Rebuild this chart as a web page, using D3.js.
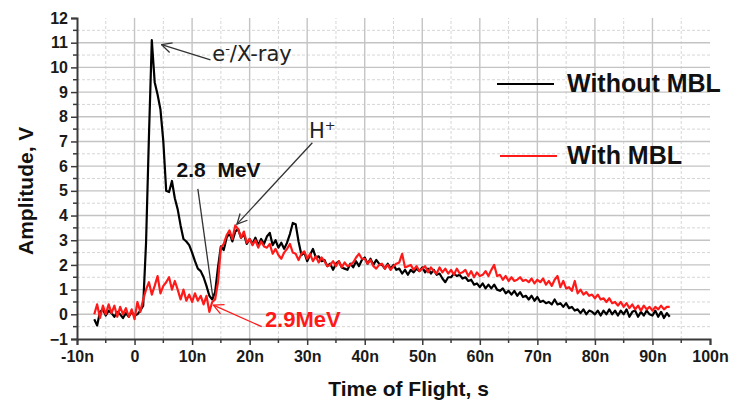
<!DOCTYPE html>
<html>
<head>
<meta charset="utf-8">
<script src="https://cdn.jsdelivr.net/npm/d3@7"></script>
<style>
  html, body { margin: 0; padding: 0; background: #fff; }
  svg { display: block; }
</style>
</head>
<body>
<svg width="730" height="403"></svg>
<script>
// sampling of both traces: first point at -7n, one value every 0.5n
const timeStart = -7;
const timeStep = 0.5;

// Without MBL (black), volts
const withoutMBL = [
  -0.2, -0.45, 0.1, 0.2, -0.05, 0.15, 0.05, -0.1, 0.1, 0.0,
  -0.15, 0.05, -0.1, 0.1, -0.05, 0.0, 0.15, 0.35, 2.9, 7.2,
  11.1, 9.4, 8.9, 8.3, 7.0, 5.0, 4.95, 5.4, 4.7, 4.25,
  3.6, 3.05, 2.95, 2.8, 2.5, 2.15, 1.85, 1.75, 1.5, 1.15,
  0.75, 0.6, 0.9, 1.9, 2.75, 2.6, 3.1, 3.3, 2.95, 3.35,
  3.45, 3.1, 3.25, 2.85, 3.05, 2.85, 3.1, 2.8, 3.05, 2.85,
  3.15, 3.3, 2.8, 3.0, 2.7, 2.9, 2.65, 2.9, 3.25, 3.7,
  3.65, 2.95, 2.4, 2.5, 2.15, 2.4, 2.65, 2.3, 2.35, 2.15,
  2.2, 1.95, 2.05, 1.8, 2.05, 2.15, 1.9, 1.85, 1.8, 2.05,
  1.9, 2.15, 1.95, 2.2, 2.3, 2.05, 2.25, 2.0, 2.2, 2.05,
  2.0, 1.85, 2.05, 1.85, 2.0, 1.8, 1.85, 1.65, 1.8, 1.6,
  1.8, 1.7, 1.85, 1.75, 1.9, 1.7, 1.85, 1.65, 1.8, 1.6,
  1.65, 1.45, 1.3, 1.5, 1.5, 1.65, 1.55, 1.6, 1.45, 1.5,
  1.35, 1.4, 1.2, 1.25, 1.1, 1.25, 1.05, 1.2, 1.05, 1.2,
  1.0, 0.95, 1.05, 0.85, 0.95, 0.8, 0.95, 0.75, 0.9, 0.7,
  0.75, 0.6, 0.75, 0.55, 0.7, 0.5, 0.55, 0.45, 0.5, 0.4,
  0.6, 0.4, 0.45, 0.3, 0.45, 0.25, 0.3, 0.15, 0.2, 0.05,
  0.2, 0.0, 0.15, 0.1, 0.0, 0.15, -0.05, 0.15, 0.0, 0.2,
  0.0, 0.15, -0.05, 0.15, 0.0, 0.2, -0.1, 0.1, 0.15, -0.1,
  0.1, -0.05, 0.15, 0.0, -0.05, 0.15, -0.1, 0.1, -0.15, 0.05,
  -0.1
];

// With MBL (red), volts
const withMBL = [
  0.0, 0.4, -0.15, 0.35, 0.0, 0.4, 0.05, 0.35, -0.1, 0.3,
  0.0, 0.25, -0.1, 0.2, -0.2, 0.5, 0.1, 0.6, 1.0, 1.3,
  0.8, 1.15, 1.55, 0.85, 1.15, 1.3, 1.5, 1.0, 1.35, 1.0,
  0.6, 1.0, 0.55, 0.8, 0.5, 0.85, 0.55, 0.75, 0.4, 0.75,
  0.1, 0.5, 0.6, 1.3, 2.7, 2.85, 3.2, 3.4, 3.05, 3.6,
  3.45, 3.1, 3.35, 2.9, 3.05, 2.8, 3.0, 2.7, 2.95, 2.75,
  2.7, 2.85, 2.45, 2.65, 2.4, 2.25, 2.5, 2.65, 2.85, 2.5,
  2.45, 2.2, 2.45, 2.55, 2.25, 2.45, 2.15, 2.35, 2.1, 2.3,
  2.15, 1.95, 2.0, 2.15, 1.95, 2.15, 1.9, 2.1, 1.95, 2.0,
  2.1, 2.3, 2.45, 2.25, 2.25, 2.05, 2.2, 1.95, 1.85, 2.0,
  2.05, 1.85, 2.0, 1.8, 1.95, 2.05, 2.1, 2.45, 1.9, 1.95,
  2.0, 1.8, 1.95, 1.75, 1.85, 1.95, 1.7, 1.9, 1.75, 1.65,
  1.9, 1.7, 1.85, 1.65, 1.8, 1.6, 1.85, 1.65, 1.7, 1.8,
  1.55, 1.75, 1.5, 1.7, 1.55, 1.6, 1.75, 1.55, 1.8, 2.0,
  1.55, 1.6, 1.4, 1.55, 1.35, 1.5, 1.35, 1.4, 1.5, 1.35,
  1.4, 1.3, 1.45, 1.25, 1.4, 1.3, 1.45, 1.2, 1.35, 1.15,
  1.4, 1.55, 1.1, 1.35, 1.05, 1.1, 0.95, 1.35, 0.85, 1.0,
  0.8, 0.9, 0.75, 0.8, 0.65, 0.8, 0.6, 0.65, 0.5, 0.65,
  0.45, 0.5, 0.35, 0.5, 0.3, 0.45, 0.25, 0.4, 0.2, 0.35,
  0.15, 0.35, 0.2, 0.3, 0.15, 0.3, 0.2, 0.35, 0.2, 0.3,
  0.3
];

const xTicks = [-10, 0, 10, 20, 30, 40, 50, 60, 70, 80, 90, 100];
const yTicks = [-1, 0, 1, 2, 3, 4, 5, 6, 7, 8, 9, 10, 11, 12];
const xMinor = [-5, 5, 15, 25, 35, 45, 55, 65, 75, 85, 95];
const yMinor = [-0.5, 0.5, 1.5, 2.5, 3.5, 4.5, 5.5, 6.5, 7.5, 8.5, 9.5, 10.5, 11.5];

const seriesNames = ['Without MBL', 'With MBL'];
const seriesColors = ['#000000', '#ff1a1a'];

const width = 730;
const height = 403;
const margin = { top: 18, right: 20, bottom: 64, left: 77 };

const svg = d3.select('svg');

const x = d3.scaleLinear().domain([-10, 100]).range([margin.left, width - margin.right]);
const y = d3.scaleLinear().domain([-1, 12]).range([height - margin.bottom, margin.top]);

// grid: minor dashed first, then major solid
const grid = svg.append('g');
grid.selectAll('.vminor').data(xMinor).join('line')
  .attr('x1', d => x(d)).attr('x2', d => x(d))
  .attr('y1', y(-1)).attr('y2', y(12))
  .attr('stroke', '#d6d6d6').attr('stroke-width', 1).attr('stroke-dasharray', '3,2');
grid.selectAll('.hminor').data(yMinor).join('line')
  .attr('x1', x(-10)).attr('x2', x(100))
  .attr('y1', d => y(d)).attr('y2', d => y(d))
  .attr('stroke', '#d6d6d6').attr('stroke-width', 1).attr('stroke-dasharray', '3,2');
grid.selectAll('.vmajor').data(xTicks.filter(d => d > -10 && d < 100)).join('line')
  .attr('x1', d => x(d)).attr('x2', d => x(d))
  .attr('y1', y(-1)).attr('y2', y(12))
  .attr('stroke', '#c4c4c4').attr('stroke-width', 1.4);
grid.selectAll('.hmajor').data(yTicks.filter(d => d > -1 && d < 12)).join('line')
  .attr('x1', x(-10)).attr('x2', x(100))
  .attr('y1', d => y(d)).attr('y2', d => y(d))
  .attr('stroke', '#c4c4c4').attr('stroke-width', 1.4);

// axes
const tickFont = g => g.selectAll('text')
  .attr('font-family', 'Liberation Sans, Arial, sans-serif')
  .attr('font-size', 16).attr('font-weight', 'bold').attr('fill', '#1a1a1a');

const xAxis = svg.append('g')
  .attr('transform', `translate(0,${y(-1)})`)
  .call(d3.axisBottom(x).tickValues(xTicks).tickSize(6).tickPadding(6)
    .tickFormat(d => d === 0 ? '0' : d + 'n'))
  .call(tickFont);
xAxis.append('g').selectAll('line').data(xMinor).join('line')
  .attr('x1', d => x(d)).attr('x2', d => x(d)).attr('y1', 0).attr('y2', 4);

const yAxis = svg.append('g')
  .attr('transform', `translate(${x(-10)},0)`)
  .call(d3.axisLeft(y).tickValues(yTicks).tickSize(6).tickPadding(3))
  .call(tickFont);
yAxis.append('g').selectAll('line').data(yMinor).join('line')
  .attr('x1', 0).attr('x2', -4).attr('y1', d => y(d)).attr('y2', d => y(d));

[xAxis, yAxis].forEach(a => {
  a.select('.domain').attr('stroke', '#3a3a3a').attr('stroke-width', 2);
  a.selectAll('line').attr('stroke', '#3a3a3a').attr('stroke-width', 1.5);
});

// axis titles
svg.append('text')
  .attr('x', (x(-10) + x(100)) / 2 + 15).attr('y', 396)
  .attr('text-anchor', 'middle')
  .attr('font-family', 'Liberation Sans, Arial, sans-serif')
  .attr('font-size', 21).attr('font-weight', 'bold').attr('fill', '#111')
  .text('Time of Flight, s');

svg.append('text')
  .attr('transform', `translate(33,${y(5.0)}) rotate(-90)`)
  .attr('text-anchor', 'middle')
  .attr('font-family', 'Liberation Sans, Arial, sans-serif')
  .attr('font-size', 21).attr('font-weight', 'bold').attr('fill', '#111')
  .text('Amplitude, V');

// traces
const line = d3.line()
  .x((d, i) => x(timeStart + i * timeStep))
  .y(d => y(d));

[withoutMBL, withMBL].forEach((vals, k) => {
  svg.append('path')
    .datum(vals)
    .attr('fill', 'none')
    .attr('stroke', seriesColors[k])
    .attr('stroke-width', 2.2)
    .attr('stroke-linejoin', 'round')
    .attr('d', line);
});

// annotations
const defs = svg.append('defs');
function arrowMarker(id, color) {
  defs.append('marker')
    .attr('id', id)
    .attr('viewBox', '0 0 12 12')
    .attr('refX', 1).attr('refY', 6)
    .attr('markerWidth', 12).attr('markerHeight', 12)
    .attr('markerUnits', 'userSpaceOnUse')
    .attr('orient', 'auto')
    .append('path')
    .attr('d', 'M11,1 L1,6 L11,11')
    .attr('fill', 'none').attr('stroke', color).attr('stroke-width', 1.3);
}
arrowMarker('arrGray', '#333');
arrowMarker('arrRed', '#ff1a1a');

// line drawn from the tip (to) toward the label (from)
function pointer(from, to, color, marker) {
  const l = svg.append('line')
    .attr('x1', x(to[0])).attr('y1', y(to[1]))
    .attr('x2', x(from[0])).attr('y2', y(from[1]))
    .attr('stroke', color).attr('stroke-width', 1.3);
  if (marker) l.attr('marker-start', `url(#${marker})`);
}

pointer([13.2, 10.3], [4.7, 10.92], '#333', 'arrGray');
pointer([30.9, 6.95], [17.8, 3.65], '#333', 'arrGray');
pointer([11.0, 5.08], [13.6, 0.7], '#333', null);
pointer([22.1, -0.5], [13.7, 0.37], '#ff1a1a', 'arrRed');

const eText = svg.append('text')
  .attr('x', x(13.5)).attr('y', y(10.24))
  .attr('font-family', 'DejaVu Sans, sans-serif')
  .attr('font-size', 21).attr('fill', '#222');
eText.append('tspan').text('e');
eText.append('tspan').attr('dy', -8).attr('font-size', 13).text('-');
eText.append('tspan').attr('dy', 8).text('/X-ray');

const hText = svg.append('text')
  .attr('x', x(30.3)).attr('y', y(7.15))
  .attr('font-family', 'DejaVu Sans, sans-serif')
  .attr('font-size', 21).attr('fill', '#222');
hText.append('tspan').text('H');
hText.append('tspan').attr('dy', -8).attr('font-size', 13).text('+');

svg.append('text')
  .attr('x', x(7.3)).attr('y', y(5.56))
  .attr('font-family', 'Liberation Sans, Arial, sans-serif')
  .attr('font-size', 21).attr('font-weight', 'bold').attr('fill', '#111')
  .style('white-space', 'pre')
  .text('2.8  MeV');

svg.append('text')
  .attr('x', x(22.65)).attr('y', y(-0.51))
  .attr('font-family', 'Liberation Sans, Arial, sans-serif')
  .attr('font-size', 22).attr('font-weight', 'bold').attr('fill', '#ff1a1a')
  .text('2.9MeV');

// legend
const legend = svg.append('g');
const legendRows = [{ ly: 84, ty: 92 }, { ly: 156, ty: 164 }];
seriesNames.forEach((name, k) => {
  legend.append('line')
    .attr('x1', 497 + k * 3).attr('x2', 554 + k * 3)
    .attr('y1', legendRows[k].ly).attr('y2', legendRows[k].ly)
    .attr('stroke', seriesColors[k]).attr('stroke-width', 2.2);
  legend.append('text')
    .attr('x', 567).attr('y', legendRows[k].ty)
    .attr('font-family', 'Liberation Sans, Arial, sans-serif')
    .attr('font-size', 25).attr('font-weight', 'bold').attr('fill', '#111')
    .text(name);
});
</script>
</body>
</html>
